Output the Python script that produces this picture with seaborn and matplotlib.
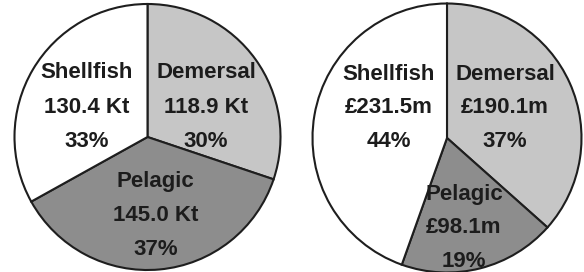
import matplotlib
matplotlib.use("Agg")
import matplotlib.pyplot as plt
import seaborn as sns

# Data
categories = ["Demersal", "Pelagic", "Shellfish"]
landings_kt = [118.9, 145.0, 130.4]
landings_labels = ["118.9 Kt", "145.0 Kt", "130.4 Kt"]
landings_pct = ["30%", "37%", "33%"]
value_m = [190.1, 98.1, 231.5]
value_labels = ["£190.1m", "£98.1m", "£231.5m"]
value_pct = ["37%", "19%", "44%"]

slice_colors = ["#c6c6c6", "#8d8d8d", "#ffffff"]
edge_color = "#1e1e1e"
text_color = "#1c1c1c"

sns.set_theme(style="white")
plt.rcParams["font.family"] = ["Liberation Sans", "DejaVu Sans"]

fig = plt.figure(figsize=(5.84, 2.72), dpi=100)
fig.patch.set_facecolor("white")

W, H = 584, 272


def pie_axes(cx, cy, r):
    """axes box in figure fraction for a pie centred at pixel (cx, cy) from top-left"""
    return fig.add_axes([(cx - r) / W, (H - cy - r) / H, 2 * r / W, 2 * r / H])


def draw_pie(ax, values, amounts, pcts, label_pos, step):
    ax.pie(values, colors=slice_colors, startangle=90, counterclock=False,
           radius=1, wedgeprops=dict(edgecolor=edge_color, linewidth=1.5))
    ax.set_xlim(-1.0, 1.0)
    ax.set_ylim(-1.0, 1.0)
    ax.set_aspect("equal")
    ax.axis("off")
    for name, amount, pct, (x, y) in zip(categories, amounts, pcts, label_pos):
        for i, line in enumerate([name, amount, pct]):
            ax.text(x, y - i * step, line, ha="center", va="baseline",
                    fontsize=16, fontweight="bold", color=text_color)


# label anchors: (x centre, first baseline) in pie units
left_pos = [(0.44, 0.441), (0.06, -0.374), (-0.457, 0.441)]
right_pos = [(0.431, 0.431), (0.126, -0.461), (-0.431, 0.431)]

ax1 = pie_axes(147.5, 137, 133)
draw_pie(ax1, landings_kt, landings_labels, landings_pct, left_pos, 0.257)

ax2 = pie_axes(447, 138, 134.5)
draw_pie(ax2, value_m, value_labels, value_pct, right_pos, 0.248)

for ax in (ax1, ax2):
    for t in ax.texts:
        t.set_clip_on(False)

fig.savefig("out.png", dpi=100, facecolor="white")
